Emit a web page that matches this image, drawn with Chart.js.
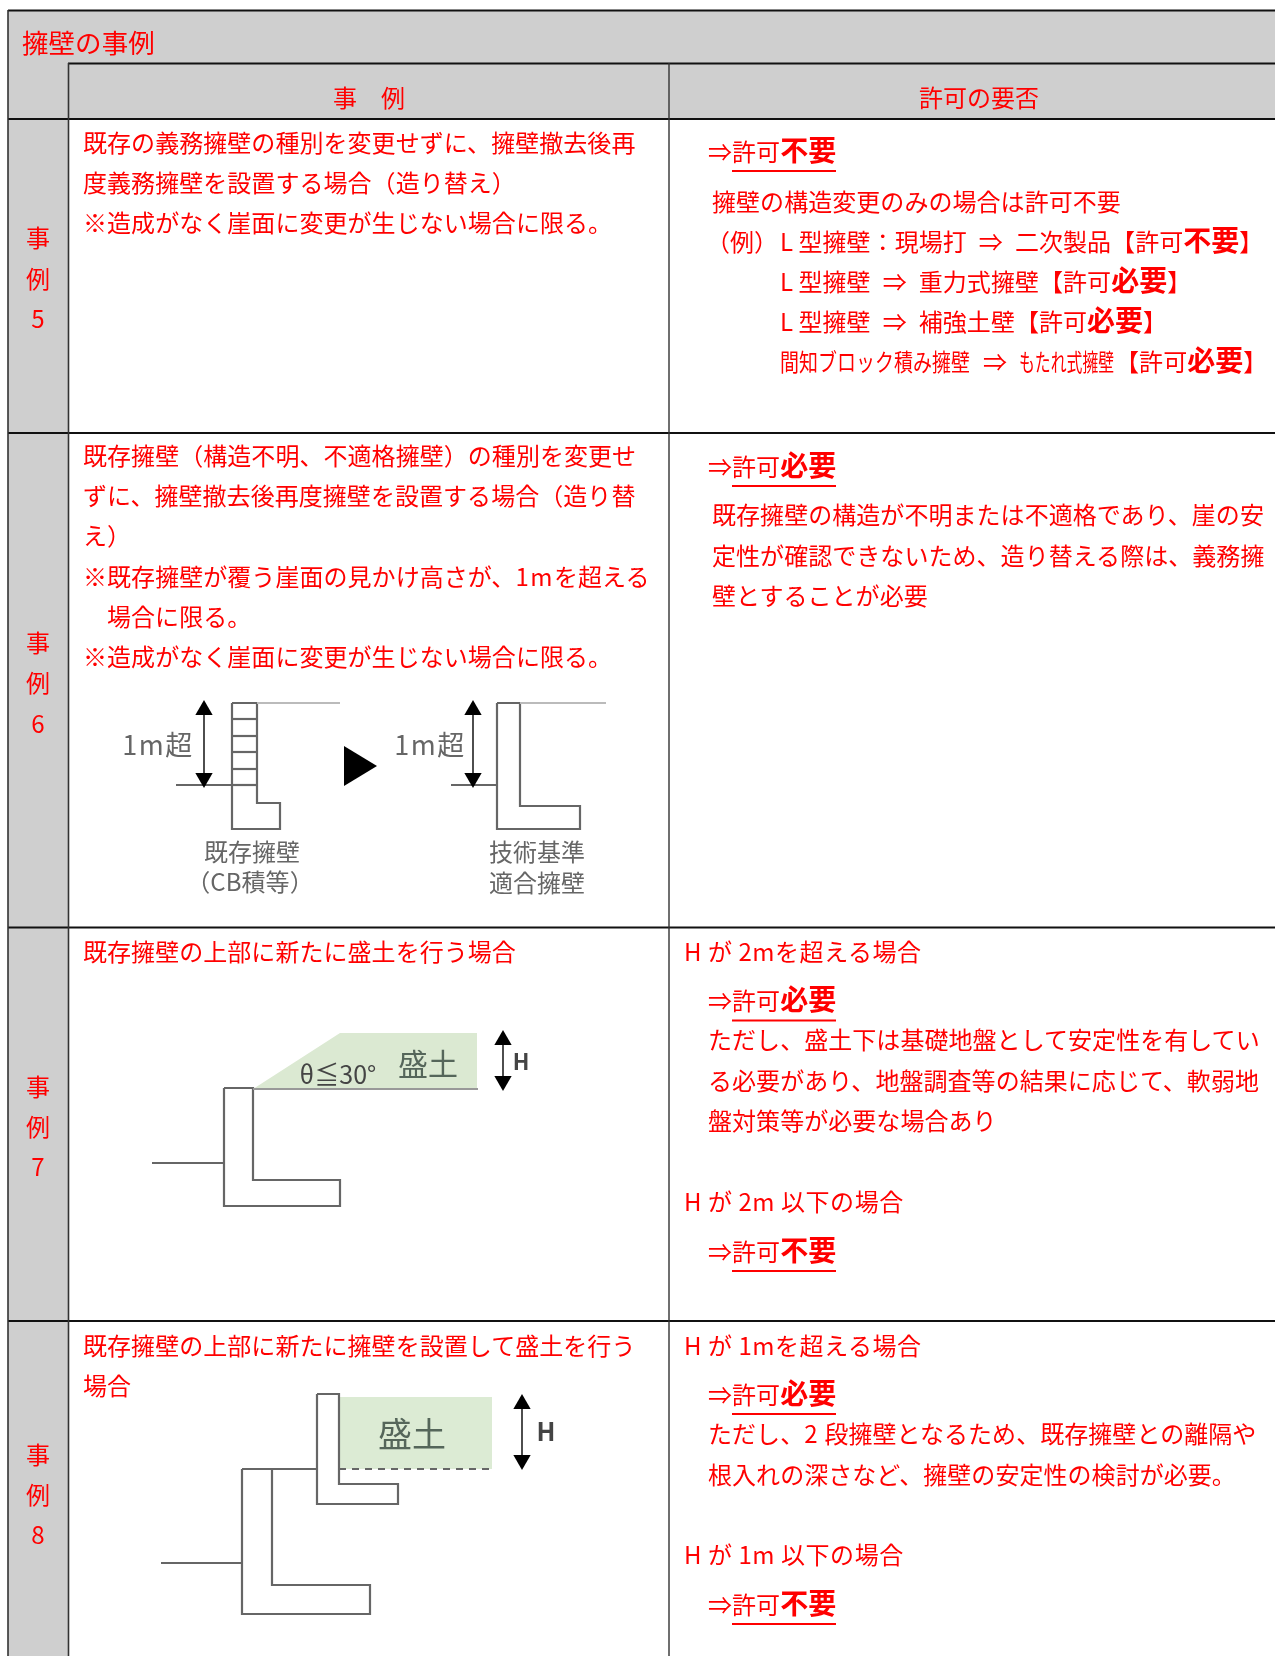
<!DOCTYPE html>
<html lang="ja"><head><meta charset="utf-8">
<script src="https://cdn.jsdelivr.net/npm/chart.js@4"></script>
<style>
html,body{margin:0;padding:0;background:#fff;width:1275px;height:1656px;overflow:hidden}
#wrap{position:relative;width:1275px;height:1656px;overflow:hidden}
canvas{position:absolute;left:0;top:0}
.t{position:absolute;white-space:pre;line-height:1;color:#f00;font:400 24px "Noto Sans CJK JP","Noto Sans",sans-serif;letter-spacing:.05px;transform:translateY(-50%);margin-top:-2px}
.t b{font-weight:700;font-size:28px;line-height:1;letter-spacing:0}
.c{transform:translate(-50%,-50%)}
.g{color:#666;filter:blur(.5px);margin-top:-3px}
.k{color:#55665a}
.w{letter-spacing:.55px}
.ar{font-style:normal;margin:0 12px}
.m{letter-spacing:1.5px}
.sq{display:inline-block;transform-origin:left center;vertical-align:baseline}
</style></head><body><div id="wrap"><canvas id="c" width="1275" height="1656"></canvas></div>
<script>
// ---- table structure (page units) ----
const tableHeaderBand=[[8,10],[1275,10],[1275,119],[8,119]];
const tableSideBand=[[8,119],[68,119],[68,1656],[8,1656]];
const ruleTop=[[8,10.5],[1275,10.5]];
const ruleHead=[[68,63.5],[1275,63.5]];
const ruleSub=[[8,119],[1275,119]];
const ruleCase5=[[8,433],[1275,433]];
const ruleCase6=[[8,927.5],[1275,927.5]];
const ruleCase7=[[8,1321],[1275,1321]];
const ruleLeft=[[8,10],[8,1656]];
const ruleSide=[[68.5,63],[68.5,1656]];
const ruleMid=[[669,63],[669,1656]];
const underlines=[[[732,171],[836,171]],[[732,486],[836,486]],[[732,1020.5],[836,1020.5]],[[732,1271],[836,1271]],[[732,1414],[836,1414]],[[732,1624],[836,1624]]];
// ---- case 6 diagram ----
const oldWall=[[232,703],[257,703],[257,803],[280,803],[280,829],[232,829],[232,703]];
const oldCourses=[[[232,719],[257,719]],[[232,736],[257,736]],[[232,752],[257,752]],[[232,769],[257,769]],[[232,785],[257,785]]];
const oldTop=[[257,703],[340,703]];
const oldGround=[[176,785],[232,785]];
const oldArrow=[[204,710],[204,778]];
const nextMark=[[344,746],[377,766],[344,786]];
const newWall=[[497,703],[520,703],[520,806],[580,806],[580,829],[497,829],[497,703]];
const newTop=[[520,703],[606,703]];
const newGround=[[451,785],[497,785]];
const newArrow=[[473,710],[473,778]];
// ---- case 7 diagram ----
const fill7=[[253,1089],[340,1033],[477,1033],[477,1089]];
const wall7=[[224,1088],[253,1088],[253,1180],[340,1180],[340,1206],[224,1206],[224,1088]];
const base7=[[253,1089],[478,1089]];
const ground7=[[152,1163],[224,1163]];
const arrow7=[[503,1040],[503,1081]];
// ---- case 8 diagram ----
const fill8=[[339,1397],[492,1397],[492,1469],[339,1469]];
const upperWall8=[[317,1394],[339,1394],[339,1484],[398,1484],[398,1504],[317,1504],[317,1394]];
const lowerWall8=[[242,1469],[272,1469],[272,1585],[370,1585],[370,1614],[242,1614],[242,1469]];
const terrace8=[[242,1469],[317,1469]];
const ground8=[[161,1563],[242,1563]];
const dashed8=[[339,1469],[494,1469]];
const arrow8=[[522,1404],[522,1460]];
// ---- texts ----
const AR='<i class="ar">⇒</i>';
const titleText="擁壁の事例";
const headerTexts=["事　例","許可の要否"];
const sideLabels=[["事","例","5"],["事","例","6"],["事","例","7"],["事","例","8"]];
const case5Left=["既存の義務擁壁の種別を変更せずに、擁壁撤去後再","度義務擁壁を設置する場合（造り替え）","※造成がなく崖面に変更が生じない場合に限る。"];
const case5RightHead="擁壁の構造変更のみの場合は許可不要";
const case5RightExample="（例）";
const case5Right=[`L 型擁壁：現場打${AR}二次製品【許可<b>不要</b>】`,`L 型擁壁${AR}重力式擁壁【許可<b>必要</b>】`,`L 型擁壁${AR}補強土壁【許可<b>必要</b>】`];
const case5Right3=`<span class="sq" style="width:191px;transform:scaleX(.79)">間知ブロック積み擁壁</span>${AR}<span class="sq" style="width:96px;transform:scaleX(.66)">もたれ式擁壁</span>【許可<b>必要</b>】`;
const case6Left=["既存擁壁（構造不明、不適格擁壁）の種別を変更せ","ずに、擁壁撤去後再度擁壁を設置する場合（造り替","え）",'※既存擁壁が覆う崖面の見かけ高さが、<span class="m">1m</span>を超える'];
const case6Left2="場合に限る。";
const case6Left3="※造成がなく崖面に変更が生じない場合に限る。";
const case6Right=["既存擁壁の構造が不明または不適格であり、崖の安","定性が確認できないため、造り替える際は、義務擁","壁とすることが必要"];
const case7Left="既存擁壁の上部に新たに盛土を行う場合";
const case7Right=["ただし、盛土下は基礎地盤として安定性を有してい","る必要があり、地盤調査等の結果に応じて、軟弱地","盤対策等が必要な場合あり"];
const case8Left=["既存擁壁の上部に新たに擁壁を設置して盛土を行う","場合"];
const case8Right=['ただし、<span class="m">2</span> 段擁壁となるため、既存擁壁との離隔や',"根入れの深さなど、擁壁の安定性の検討が必要。"];
const conditions=["H が 2mを超える場合","H が 2m 以下の場合","H が 1mを超える場合","H が 1m 以下の場合"];
const verdictNo="⇒許可<b>不要</b>", verdictYes="⇒許可<b>必要</b>";
const diagramLabels={mOver:"1m超",oldA:"既存擁壁",oldB:"（CB積等）",newA:"技術基準",newB:"適合擁壁",soil:"盛土",h:"H",angle:"θ≦30°"};

// ---- chart ----
const P=a=>a.map(([x,y])=>({x,y}));
const ds=[];
function add(points,style){ds.push(Object.assign({data:P(points),showLine:true,pointRadius:0,borderColor:'#000',borderWidth:2,fill:false,tension:0},style));}
const shape=(c)=>({fill:'shape',backgroundColor:c,borderWidth:0,borderColor:'transparent'});
const WALL={borderColor:'#666',borderWidth:2.2};
add(tableHeaderBand,shape('#cfcfcf'));add(tableSideBand,shape('#cfcfcf'));
[ruleTop,ruleHead,ruleSub,ruleCase5,ruleCase6,ruleCase7].forEach(r=>add(r,{borderColor:'#111',borderWidth:2.2}));
add(ruleLeft,{borderColor:'#333',borderWidth:1.6});add(ruleSide,{borderColor:'#333',borderWidth:1.6});add(ruleMid,{borderColor:'#333',borderWidth:1.4});
underlines.forEach(u=>add(u,{borderColor:'#f00',borderWidth:2}));
add(fill7,shape('#dbe9d2'));add(fill8,shape('#dcebd4'));
[oldWall,newWall,wall7,upperWall8,lowerWall8,oldGround,newGround,ground7,ground8,terrace8,...oldCourses].forEach(r=>add(r,WALL));
[oldTop,newTop].forEach(r=>add(r,{borderColor:'#bbb',borderWidth:2}));
add(base7,{borderColor:'#999',borderWidth:2});
add(dashed8,{borderColor:'#666',borderWidth:2,borderDash:[7,6]});
add(nextMark,shape('#000'));
[oldArrow,newArrow,arrow7,arrow8].forEach(r=>add(r,{borderColor:'#222',borderWidth:1.6,pointStyle:'triangle',pointRadius:10,pointBackgroundColor:'#000',pointBorderColor:'#000',pointBorderWidth:0,pointRotation:[0,180]}));
ds.forEach((d,i)=>{d.order=ds.length-i;d.clip=false;});
new Chart(document.getElementById('c'),{type:'scatter',data:{datasets:ds},options:{
 responsive:false,animation:false,layout:{padding:0,autoPadding:false},
 plugins:{legend:{display:false},tooltip:{enabled:false},title:{display:false}},
 scales:{x:{type:'linear',min:0,max:1275,display:false},y:{type:'linear',min:0,max:1656,reverse:true,display:false}}
}});

// ---- text layer ----
const wrap=document.getElementById('wrap');
function T(x,y,html,cls,style){const e=document.createElement('div');e.className='t '+(cls||'');e.style.left=x+'px';e.style.top=y+'px';if(style)e.style.cssText+=style;e.innerHTML=html;wrap.appendChild(e);}
function block(lines,x,ys,cls){lines.forEach((l,i)=>T(x,ys[i],l,cls));}
T(22,43,titleText,'','font-size:26.5px');
T(369,98,headerTexts[0],'c');T(979,98,headerTexts[1],'c');
[[238,279,319],[643,683,724],[1087,1127,1167],[1455,1495,1535]].forEach((ys,i)=>ys.forEach((y,j)=>T(38,y,sideLabels[i][j],'c')));
block(case5Left,83,[143,183,223]);
T(708,152,verdictNo);
T(712,202,case5RightHead);T(706,242,case5RightExample);
block(case5Right,780,[242,282,322]);
T(780,362,case5Right3);
block(case6Left,83,[456,496,536,577]);
T(107,617,case6Left2);T(83,657,case6Left3);
T(708,467,verdictYes);
block(case6Right,712,[515,556,596]);
T(83,952,case7Left);
T(684,952,conditions[0],'w');T(708,1001,verdictYes);
block(case7Right,708,[1040,1081,1121]);
T(684,1202,conditions[1],'w');T(708,1252,verdictNo);
block(case8Left,83,[1346,1386]);
T(684,1346,conditions[2],'w');T(708,1395,verdictYes);
block(case8Right,708,[1434,1475]);
T(684,1555,conditions[3],'w');T(708,1605,verdictNo);
// diagram labels
T(158,746,diagramLabels.mOver,'c g','font-size:27px;letter-spacing:1.5px');T(430,746,diagramLabels.mOver,'c g','font-size:27px;letter-spacing:1.5px');
T(252,853,diagramLabels.oldA,'c g');T(250,883,diagramLabels.oldB,'c g');
T(537,853,diagramLabels.newA,'c g');T(537,884,diagramLabels.newB,'c g');
T(428,1065,diagramLabels.soil,'c g k','font-size:30px');
T(521,1063,diagramLabels.h,'c g','font-size:22px;font-weight:700;color:#444');
T(338,1076,diagramLabels.angle,'c g','font-size:25px;color:#444');
T(412,1435,diagramLabels.soil,'c g k','font-size:34px');
T(546,1433,diagramLabels.h,'c g','font-size:25px;font-weight:700;color:#444');
</script></body></html>
